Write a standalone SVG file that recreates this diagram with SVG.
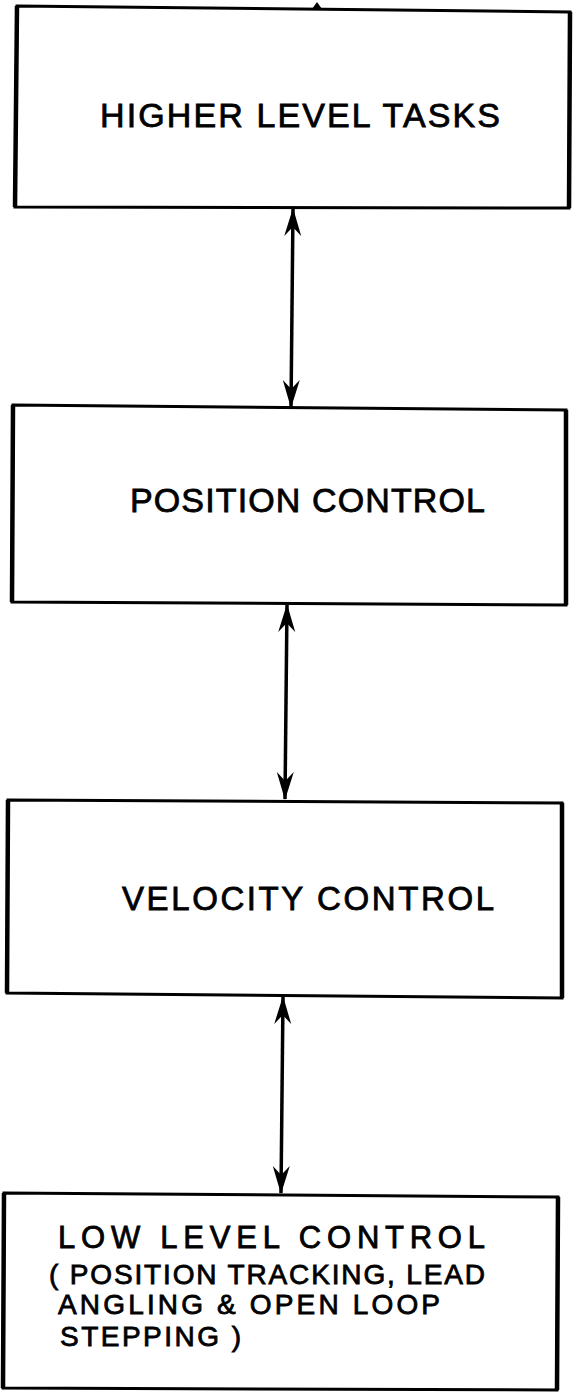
<svg xmlns="http://www.w3.org/2000/svg" width="573" height="1395" viewBox="0 0 573 1395">
<style>
.box{fill:#fff;stroke:#000;stroke-width:3;stroke-linejoin:miter}
.side{stroke:#000;stroke-width:4.5;fill:none}
.lbl{font-family:"Liberation Sans",Arial,sans-serif;fill:#000;stroke:#000;stroke-width:0.8}
.conn{stroke:#000;stroke-width:3.5;fill:none}
</style>
<defs>
<marker id="ah" markerUnits="userSpaceOnUse" markerWidth="28" markerHeight="18" refX="27" refY="9" orient="auto-start-reverse" viewBox="0 0 28 18">
<path d="M28,9 L0,0.5 L9,9 L0,17.5 Z" fill="#000"/>
</marker>
</defs>
<rect width="573" height="1395" fill="#fff"/>
<g id="connectors">
<path class="conn" d="M293,209 L291,407" marker-start="url(#ah)" marker-end="url(#ah)"/>
<path class="conn" d="M287,605 L285,799" marker-start="url(#ah)" marker-end="url(#ah)"/>
<path class="conn" d="M283,997 L281,1193" marker-start="url(#ah)" marker-end="url(#ah)"/>
</g>
<g id="node-higher">
<polygon class="box" points="17,6 570,12 569,208 15,207"/>
<path class="side" d="M17,6 L15,207 M570,12 L569,208"/>
<path d="M312,9 L317,2 L322,9 Z" fill="#000"/>
<text class="lbl" x="100" y="127" font-size="34" textLength="400" lengthAdjust="spacing">HIGHER LEVEL TASKS</text>
</g>
<g id="node-position">
<polygon class="box" points="13,405 566,410 566,605 12,602"/>
<path class="side" d="M13,405 L12,602 M566,410 L566,605"/>
<text class="lbl" x="130" y="512" font-size="34" textLength="355" lengthAdjust="spacing">POSITION CONTROL</text>
</g>
<g id="node-velocity">
<polygon class="box" points="8,800 562,803 562,998 7,993"/>
<path class="side" d="M8,800 L7,993 M562,803 L562,998"/>
<text class="lbl" x="122" y="910" font-size="33" textLength="372" lengthAdjust="spacing">VELOCITY CONTROL</text>
</g>
<g id="node-low">
<polygon class="box" points="4,1193 558,1197 557,1390 3,1388"/>
<path class="side" d="M4,1193 L3,1388 M558,1197 L557,1390"/>
<text class="lbl" x="58" y="1248" font-size="31" textLength="427" lengthAdjust="spacing">LOW LEVEL CONTROL</text>
<text class="lbl" x="49" y="1284" font-size="28" textLength="436" lengthAdjust="spacing">( POSITION TRACKING, LEAD</text>
<text class="lbl" x="58" y="1314" font-size="28" textLength="382" lengthAdjust="spacing">ANGLING &amp; OPEN LOOP</text>
<text class="lbl" x="60" y="1346" font-size="28" textLength="181" lengthAdjust="spacing">STEPPING )</text>
</g>
</svg>
